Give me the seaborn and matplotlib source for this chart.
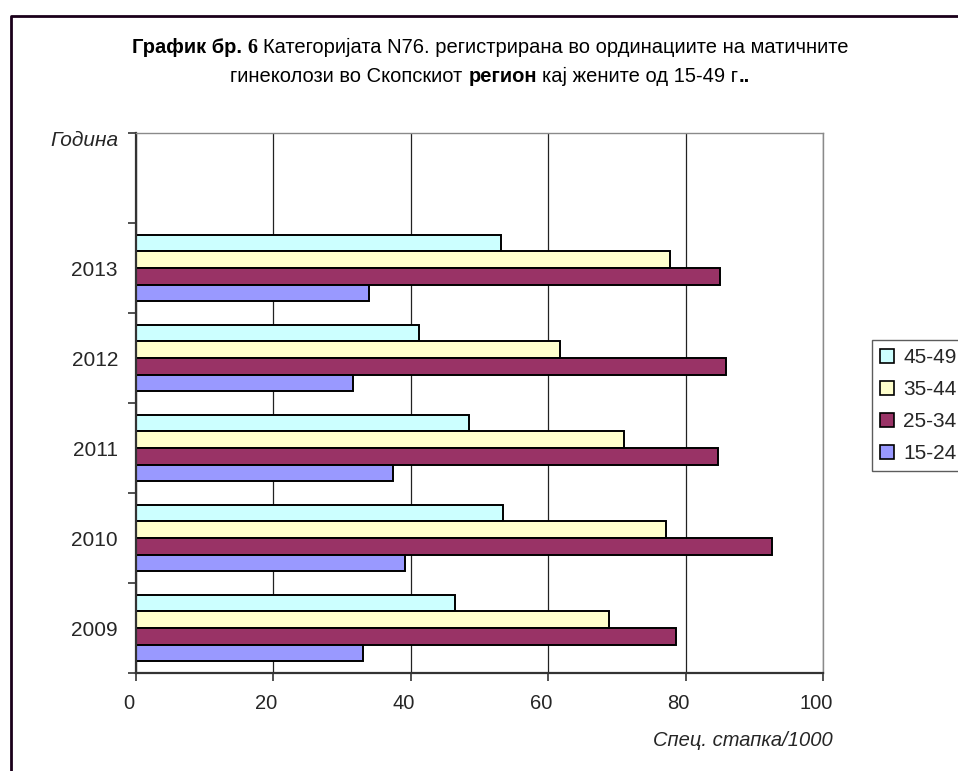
import matplotlib
matplotlib.use("Agg")
import matplotlib.pyplot as plt
from matplotlib.lines import Line2D
from matplotlib.offsetbox import TextArea, HPacker, VPacker, AnnotationBbox
from matplotlib.ticker import FixedLocator
from matplotlib.transforms import ScaledTranslation
import seaborn as sns
import pandas as pd

# Data: specific rate per 1000 women, by year and age group
years = ["2013", "2012", "2011", "2010", "2009"]
age_groups = ["45-49", "35-44", "25-34", "15-24"]
rate_45_49 = [53.2, 41.2, 48.5, 53.4, 46.4]
rate_35_44 = [77.7, 61.7, 71.0, 77.1, 68.9]
rate_25_34 = [85.0, 85.9, 84.7, 92.6, 78.6]
rate_15_24 = [33.9, 31.6, 37.4, 39.1, 33.0]
x_ticks = [0, 20, 40, 60, 80, 100]
colors = ["#CCFFFF", "#FFFFCC", "#993366", "#9999FF"]

series = {"45-49": rate_45_49, "35-44": rate_35_44,
          "25-34": rate_25_34, "15-24": rate_15_24}
rows = []
for age, vals in series.items():
    for yr, v in zip(years, vals):
        rows.append({"year": yr, "age": age, "rate": v})
df = pd.DataFrame(rows)

sns.set_theme(style="white")
plt.rcParams["font.family"] = ["Liberation Sans", "DejaVu Sans"]

W, H = 958, 771
fig = plt.figure(figsize=(W / 100, H / 100), dpi=100)
fig.patch.set_facecolor("white")

L, R, T, B = 136, 823, 133, 673
ax = fig.add_axes([L / W, 1 - B / H, (R - L) / W, (B - T) / H])

sns.barplot(data=df, x="rate", y="year", hue="age", order=years,
            hue_order=age_groups, palette=colors, width=0.74,
            edgecolor="black", linewidth=1.4, orient="h", ax=ax,
            saturation=1)

ax.set_xlim(0, 100)
ax.set_ylim(4.5, -1.5)
ax.set_xticks(x_ticks)
ax.set_xticklabels([str(t) for t in x_ticks], fontsize=14.5)
ax.set_yticks(range(len(years)))
ax.set_yticklabels(years, fontsize=15)
ax.yaxis.set_minor_locator(FixedLocator([i - 0.5 for i in range(-1, 6)]))
ax.tick_params(axis="y", which="major", length=0, pad=13)
ax.tick_params(axis="y", which="minor", length=6, width=1.2,
               color="#333333", left=True)
ax.tick_params(axis="x", which="major", length=6, width=1.2,
               color="#333333", bottom=True, pad=9)
# x tick labels sit a little to the left of their ticks
shift = ScaledTranslation(-7 / 100, 0, fig.dpi_scale_trans)
for lab in ax.get_xticklabels():
    lab.set_transform(lab.get_transform() + shift)
ax.set_xlabel("")
ax.set_ylabel("")

ax.grid(axis="x", color="#222222", linewidth=0.9)
ax.grid(axis="y", visible=False)
ax.set_axisbelow(True)
for side in ["left", "bottom"]:
    ax.spines[side].set_color("#333333")
    ax.spines[side].set_linewidth(1.6)
for side in ["top", "right"]:
    ax.spines[side].set_color("#8a8a8a")
    ax.spines[side].set_linewidth(1.0)

# Legend on the right of the plot area
handles, labels = ax.get_legend_handles_labels()
ax.get_legend().remove()
leg = fig.legend(handles, labels, loc="upper left",
                 bbox_to_anchor=(872 / W, 1 - 340 / H), fontsize=15,
                 frameon=True, fancybox=False, shadow=False,
                 handlelength=0.65, handleheight=0.65, handletextpad=0.45,
                 labelspacing=0.62, borderpad=0.4, borderaxespad=0)
leg.get_frame().set_edgecolor("#333333")
leg.get_frame().set_linewidth(1.0)
for h in leg.legend_handles:
    h.set_edgecolor("black")
    h.set_linewidth(1.2)

# Axis captions
fig.text(118 / W, 1 - 140 / H, "Година", ha="right", va="center",
         fontsize=15, style="italic")
fig.text(833 / W, 1 - 740 / H, "Спец. стапка/1000", ha="right",
         va="center", fontsize=14.5, style="italic")

# Title with mixed bold and regular runs
ts = 14.5
reg = dict(fontsize=ts, fontfamily="Liberation Sans", color="black")
bold = dict(fontsize=ts, fontfamily="Liberation Sans", fontweight="bold",
            color="black")
serif_bold = dict(fontsize=ts, fontfamily="Liberation Serif",
                  fontweight="bold", color="black")
line1 = HPacker(children=[
    TextArea("График бр.", textprops=bold),
    TextArea("6", textprops=serif_bold),
    TextArea("Категоријата N76. регистрирана во ординациите на матичните",
             textprops=reg),
], align="baseline", pad=0, sep=4)
line2 = HPacker(children=[
    TextArea("гинеколози во Скопскиот", textprops=reg),
    TextArea("регион", textprops=bold),
    HPacker(children=[TextArea("кај жените од 15-49 г", textprops=reg),
                      TextArea("..", textprops=bold)],
            align="baseline", pad=0, sep=0),
], align="baseline", pad=0, sep=4)
title = VPacker(children=[line1, line2], align="center", pad=0, sep=6)
fig.add_artist(AnnotationBbox(title, (490 / W, 1 - 62 / H),
                              xycoords="figure fraction", frameon=False,
                              box_alignment=(0.5, 0.5)))

# Frame around the chart area
fig.add_artist(Line2D([10.5 / W, 10.5 / W, 1.01], [-0.01, 1 - 16 / H, 1 - 16 / H],
                      transform=fig.transFigure, color="#1a001a",
                      linewidth=2.0, solid_capstyle="butt"))

fig.savefig("out.png", dpi=100, facecolor="white")
